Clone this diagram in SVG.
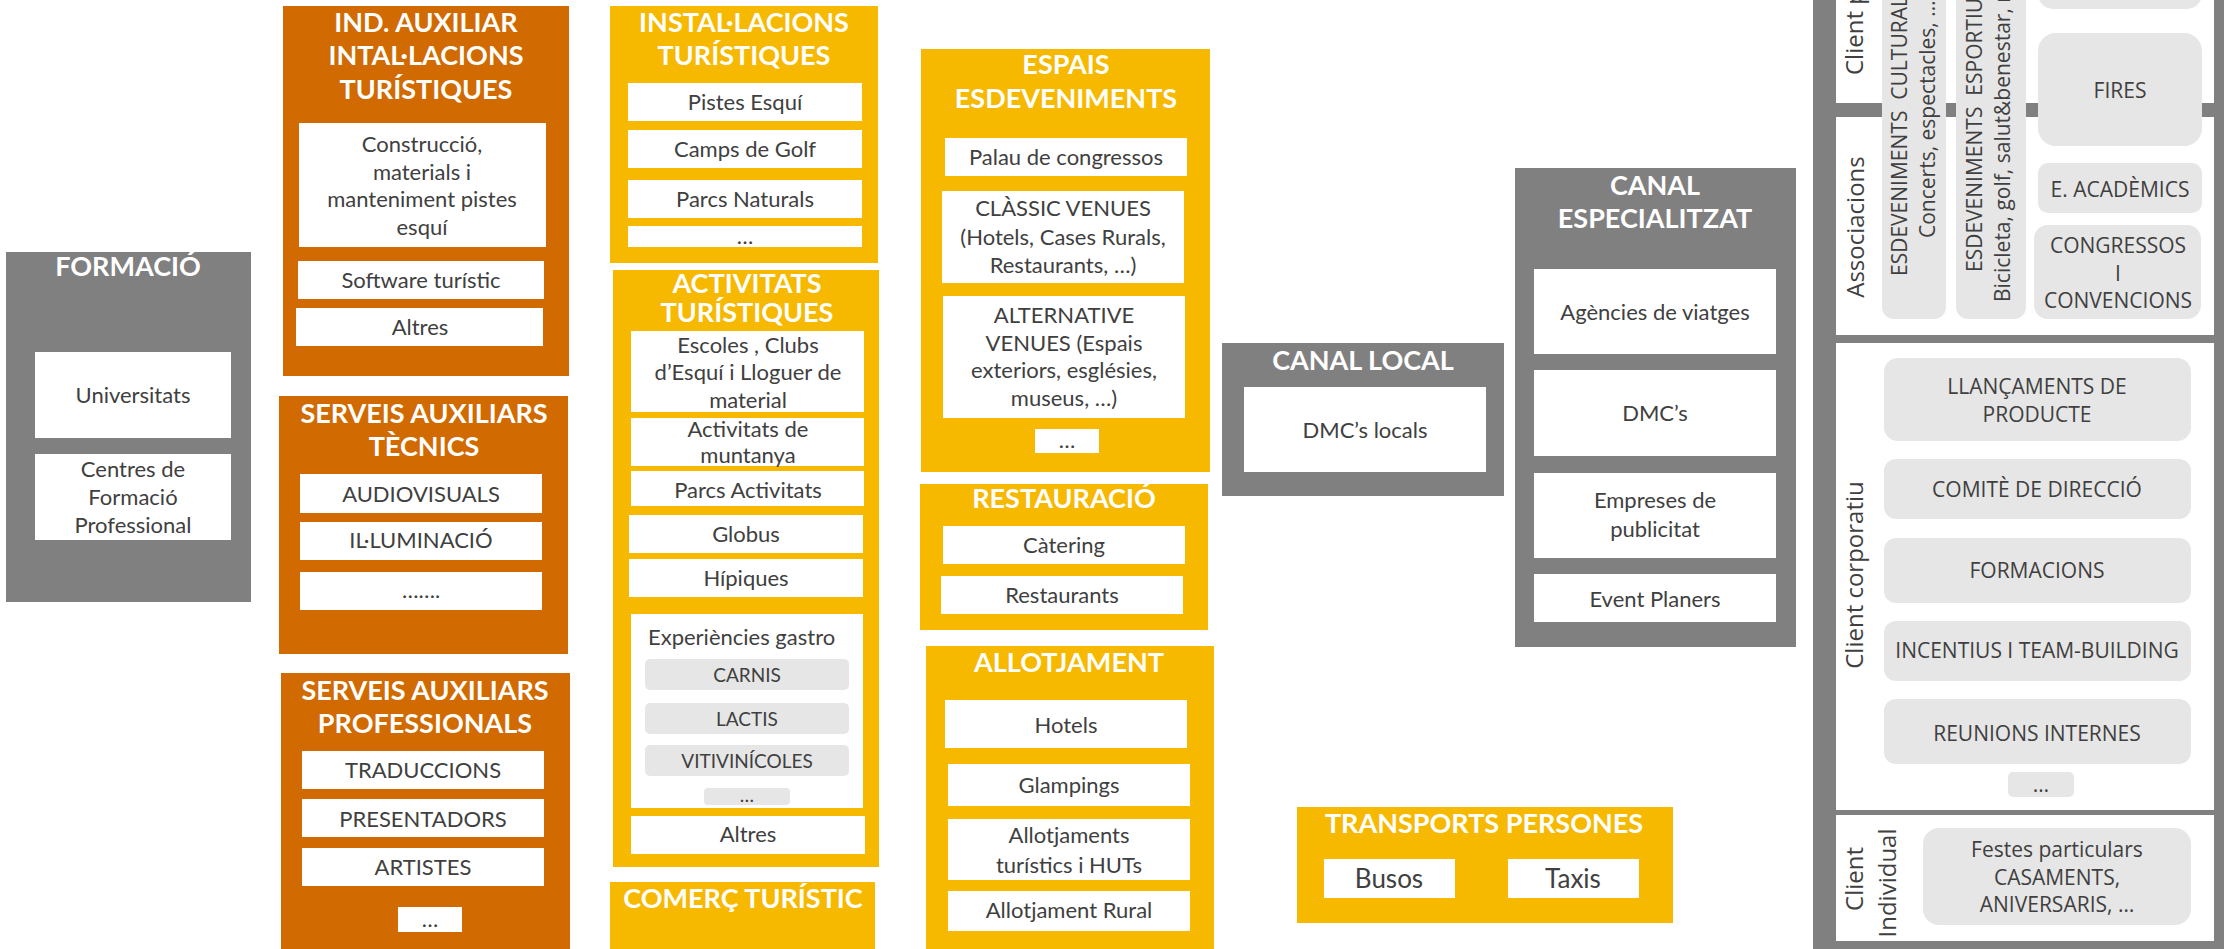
<svg xmlns="http://www.w3.org/2000/svg" width="2224" height="949" viewBox="0 0 2224 949">
<style>
  .grey{fill:#808080}
  .orange{fill:#D16A00}
  .yellow{fill:#F6B900}
  .w{fill:#FFFFFF}
  .pill{fill:#E6E6E6}
  .ttl{font-family:Lato,"Liberation Sans",sans-serif;font-weight:700;font-size:27px;fill:#FFFFFF;text-anchor:middle}
  .tx{font-family:Lato,"Liberation Sans",sans-serif;font-size:22px;fill:#404040;text-anchor:middle}
  .sm{font-family:Lato,"Liberation Sans",sans-serif;font-size:19px;fill:#404040;text-anchor:middle}
  .big{font-family:Lato,"Liberation Sans",sans-serif;font-size:26px;fill:#404040;text-anchor:middle}
  .rp{font-family:"Open Sans","Liberation Sans",sans-serif;font-size:21px;fill:#404040;text-anchor:middle}
  .rv{font-family:"Open Sans","Liberation Sans",sans-serif;font-size:21px;fill:#404040;white-space:pre}
  .lab{font-family:"Open Sans","Liberation Sans",sans-serif;font-size:24px;fill:#404040}
</style>
<rect width="2224" height="949" fill="#FFFFFF"/>

<!-- Training -->
<g id="formacio">
  <rect class="grey" x="6" y="252" width="245" height="350"/>
  <text class="ttl" x="128" y="276">FORMACIÓ</text>
  <rect class="w" x="35" y="352" width="196" height="86"/>
  <text class="tx" x="133" y="403">Universitats</text>
  <rect class="w" x="35" y="454" width="196" height="86"/>
  <text class="tx" x="133"><tspan x="133" y="477">Centres de</tspan><tspan x="133" y="505">Formació</tspan><tspan x="133" y="533">Professional</tspan></text>
</g>

<!-- Auxiliary industry -->
<g id="ind-auxiliar">
  <rect class="orange" x="283" y="6" width="286" height="370"/>
  <text class="ttl"><tspan x="426" y="32">IND. AUXILIAR</tspan><tspan x="426" y="65">INTAL·LACIONS</tspan><tspan x="426" y="99">TURÍSTIQUES</tspan></text>
  <rect class="w" x="299" y="123" width="247" height="124"/>
  <text class="tx"><tspan x="422" y="152">Construcció,</tspan><tspan x="422" y="180">materials i</tspan><tspan x="422" y="207">manteniment pistes</tspan><tspan x="422" y="235">esquí</tspan></text>
  <rect class="w" x="298" y="261" width="246" height="38"/>
  <text class="tx" x="421" y="288">Software turístic</text>
  <rect class="w" x="296" y="308" width="247" height="38"/>
  <text class="tx" x="420" y="335">Altres</text>
</g>

<g id="serveis-tecnics">
  <rect class="orange" x="279" y="396" width="289" height="258"/>
  <text class="ttl"><tspan x="424" y="423">SERVEIS AUXILIARS</tspan><tspan x="424" y="456">TÈCNICS</tspan></text>
  <rect class="w" x="300" y="474" width="242" height="39"/>
  <text class="tx" x="421" y="502">AUDIOVISUALS</text>
  <rect class="w" x="300" y="522" width="242" height="38"/>
  <text class="tx" x="421" y="548">IL·LUMINACIÓ</text>
  <rect class="w" x="300" y="572" width="242" height="38"/>
  <text class="tx" x="421" y="598">…….</text>
</g>

<g id="serveis-professionals">
  <rect class="orange" x="281" y="673" width="289" height="276"/>
  <text class="ttl"><tspan x="425" y="700">SERVEIS AUXILIARS</tspan><tspan x="425" y="733">PROFESSIONALS</tspan></text>
  <rect class="w" x="302" y="751" width="242" height="38"/>
  <text class="tx" x="423" y="778">TRADUCCIONS</text>
  <rect class="w" x="302" y="799" width="242" height="38"/>
  <text class="tx" x="423" y="827">PRESENTADORS</text>
  <rect class="w" x="302" y="848" width="242" height="38"/>
  <text class="tx" x="423" y="875">ARTISTES</text>
  <rect class="w" x="398" y="907" width="64" height="25"/>
  <text class="tx" x="430" y="927">…</text>
</g>

<!-- Tourist facilities and activities -->
<g id="instal-lacions">
  <rect class="yellow" x="610" y="6" width="268" height="257"/>
  <text class="ttl"><tspan x="744" y="32">INSTAL·LACIONS</tspan><tspan x="744" y="65">TURÍSTIQUES</tspan></text>
  <rect class="w" x="628" y="83" width="234" height="38"/>
  <text class="tx" x="745" y="110">Pistes Esquí</text>
  <rect class="w" x="628" y="130" width="234" height="38"/>
  <text class="tx" x="745" y="157">Camps de Golf</text>
  <rect class="w" x="628" y="180" width="234" height="38"/>
  <text class="tx" x="745" y="207">Parcs Naturals</text>
  <rect class="w" x="628" y="226" width="234" height="21"/>
  <text class="tx" x="745" y="244">…</text>
</g>

<g id="activitats">
  <rect class="yellow" x="613" y="270" width="266" height="597"/>
  <text class="ttl"><tspan x="747" y="293">ACTIVITATS</tspan><tspan x="747" y="322">TURÍSTIQUES</tspan></text>
  <rect class="w" x="631" y="331" width="233" height="81"/>
  <text class="tx"><tspan x="748" y="353">Escoles , Clubs</tspan><tspan x="748" y="380">d’Esquí i Lloguer de</tspan><tspan x="748" y="408">material</tspan></text>
  <rect class="w" x="631" y="418" width="233" height="48"/>
  <text class="tx"><tspan x="748" y="437">Activitats de</tspan><tspan x="748" y="463">muntanya</tspan></text>
  <rect class="w" x="631" y="471" width="233" height="35"/>
  <text class="tx" x="748" y="498">Parcs Activitats</text>
  <rect class="w" x="629" y="515" width="234" height="38"/>
  <text class="tx" x="746" y="542">Globus</text>
  <rect class="w" x="629" y="559" width="234" height="38"/>
  <text class="tx" x="746" y="586">Hípiques</text>
  <rect class="w" x="631" y="614" width="232" height="194"/>
  <text class="tx" x="648" y="645" style="text-anchor:start">Experiències gastro</text>
  <rect class="pill" x="645" y="659" width="204" height="31" rx="5"/>
  <text class="sm" x="747" y="682">CARNIS</text>
  <rect class="pill" x="645" y="703" width="204" height="31" rx="5"/>
  <text class="sm" x="747" y="726">LACTIS</text>
  <rect class="pill" x="645" y="745" width="204" height="31" rx="5"/>
  <text class="sm" x="747" y="768">VITIVINÍCOLES</text>
  <rect class="pill" x="704" y="788" width="86" height="17" rx="4"/>
  <text class="sm" x="747" y="802">…</text>
  <rect class="w" x="631" y="816" width="234" height="38"/>
  <text class="tx" x="748" y="842">Altres</text>
</g>

<g id="comerc">
  <rect class="yellow" x="610" y="882" width="265" height="67"/>
  <text class="ttl" x="743" y="908">COMERÇ TURÍSTIC</text>
</g>

<!-- Venues, catering, lodging -->
<g id="espais">
  <rect class="yellow" x="921" y="49" width="289" height="423"/>
  <text class="ttl"><tspan x="1066" y="74">ESPAIS</tspan><tspan x="1066" y="108">ESDEVENIMENTS</tspan></text>
  <rect class="w" x="945" y="138" width="242" height="38"/>
  <text class="tx" x="1066" y="165">Palau de congressos</text>
  <rect class="w" x="942" y="191" width="242" height="92"/>
  <text class="tx"><tspan x="1063" y="216">CLÀSSIC VENUES</tspan><tspan x="1063" y="245">(Hotels, Cases Rurals,</tspan><tspan x="1063" y="273">Restaurants, …)</tspan></text>
  <rect class="w" x="943" y="296" width="242" height="122"/>
  <text class="tx"><tspan x="1064" y="323">ALTERNATIVE</tspan><tspan x="1064" y="351">VENUES (Espais</tspan><tspan x="1064" y="378">exteriors, esglésies,</tspan><tspan x="1064" y="406">museus, …)</tspan></text>
  <rect class="w" x="1035" y="429" width="64" height="24"/>
  <text class="tx" x="1067" y="448">…</text>
</g>

<g id="restauracio">
  <rect class="yellow" x="920" y="484" width="288" height="146"/>
  <text class="ttl" x="1064" y="508">RESTAURACIÓ</text>
  <rect class="w" x="943" y="526" width="242" height="38"/>
  <text class="tx" x="1064" y="553">Càtering</text>
  <rect class="w" x="941" y="576" width="242" height="38"/>
  <text class="tx" x="1062" y="603">Restaurants</text>
</g>

<g id="allotjament">
  <rect class="yellow" x="926" y="646" width="288" height="303"/>
  <text class="ttl" x="1069" y="672">ALLOTJAMENT</text>
  <rect class="w" x="945" y="700" width="242" height="48"/>
  <text class="tx" x="1066" y="733">Hotels</text>
  <rect class="w" x="948" y="764" width="242" height="42"/>
  <text class="tx" x="1069" y="793">Glampings</text>
  <rect class="w" x="948" y="819" width="242" height="61"/>
  <text class="tx"><tspan x="1069" y="843">Allotjaments</tspan><tspan x="1069" y="873">turístics i HUTs</tspan></text>
  <rect class="w" x="948" y="891" width="242" height="40"/>
  <text class="tx" x="1069" y="918">Allotjament Rural</text>
</g>

<!-- Sales channels -->
<g id="canal-local">
  <rect class="grey" x="1222" y="343" width="282" height="153"/>
  <text class="ttl" x="1363" y="370">CANAL LOCAL</text>
  <rect class="w" x="1244" y="387" width="242" height="85"/>
  <text class="tx" x="1365" y="438">DMC’s locals</text>
</g>

<g id="canal-especialitzat">
  <rect class="grey" x="1515" y="168" width="281" height="479"/>
  <text class="ttl"><tspan x="1655" y="195">CANAL</tspan><tspan x="1655" y="228">ESPECIALITZAT</tspan></text>
  <rect class="w" x="1534" y="269" width="242" height="85"/>
  <text class="tx" x="1655" y="320">Agències de viatges</text>
  <rect class="w" x="1534" y="370" width="242" height="86"/>
  <text class="tx" x="1655" y="421">DMC’s</text>
  <rect class="w" x="1534" y="473" width="242" height="85"/>
  <text class="tx"><tspan x="1655" y="508">Empreses de</tspan><tspan x="1655" y="537">publicitat</tspan></text>
  <rect class="w" x="1534" y="574" width="242" height="48"/>
  <text class="tx" x="1655" y="607">Event Planers</text>
</g>

<g id="transports">
  <rect class="yellow" x="1297" y="807" width="376" height="116"/>
  <text class="ttl" x="1484" y="833">TRANSPORTS PERSONES</text>
  <rect class="w" x="1324" y="859" width="131" height="39"/>
  <text class="big" x="1389" y="888">Busos</text>
  <rect class="w" x="1508" y="859" width="131" height="39"/>
  <text class="big" x="1573" y="888">Taxis</text>
</g>

<!-- Client segments panel -->
<g id="clients">
  <rect class="grey" x="1813" y="0" width="411" height="949"/>
  <rect class="w" x="1836" y="0" width="378" height="103"/>
  <rect class="w" x="1836" y="117" width="378" height="218"/>
  <rect class="w" x="1836" y="343" width="378" height="467"/>
  <rect class="w" x="1836" y="815" width="378" height="126"/>
</g>

<g id="client-p">
  <text class="lab" transform="translate(1863,75) rotate(-90)">Client p</text>
  <rect class="pill" x="2038" y="-40" width="164" height="49" rx="15"/>
</g>

<g id="associacions">
  <text class="lab" transform="translate(1864,227) rotate(-90)" text-anchor="middle">Associacions</text>
  <rect class="pill" x="1882" y="-30" width="64" height="349" rx="12"/>
  <text class="rv" transform="translate(1907,276) rotate(-90)">ESDEVENIMENTS  CULTURALS</text>
  <text class="rv" transform="translate(1935,238) rotate(-90)">Concerts, espectacles, …</text>
  <rect class="pill" x="1956" y="-30" width="70" height="349" rx="12"/>
  <text class="rv" transform="translate(1982,272) rotate(-90)">ESDEVENIMENTS  ESPORTIUS</text>
  <text class="rv" transform="translate(2010,302) rotate(-90)">Bicicleta, golf, salut&amp;benestar, m</text>
  <rect class="pill" x="2038" y="33" width="164" height="113" rx="18"/>
  <text class="rp" x="2120" y="98">FIRES</text>
  <rect class="pill" x="2038" y="163" width="164" height="50" rx="10"/>
  <text class="rp" x="2120" y="197">E. ACADÈMICS</text>
  <rect class="pill" x="2034" y="225" width="167" height="94" rx="14"/>
  <text class="rp"><tspan x="2118" y="253">CONGRESSOS</tspan><tspan x="2118" y="281">I</tspan><tspan x="2118" y="308">CONVENCIONS</tspan></text>
</g>

<g id="client-corporatiu">
  <text class="lab" transform="translate(1863,575) rotate(-90)" text-anchor="middle">Client corporatiu</text>
  <rect class="pill" x="1884" y="358" width="307" height="83" rx="14"/>
  <text class="rp"><tspan x="2037" y="394">LLANÇAMENTS DE</tspan><tspan x="2037" y="422">PRODUCTE</tspan></text>
  <rect class="pill" x="1884" y="459" width="307" height="60" rx="12"/>
  <text class="rp" x="2037" y="497">COMITÈ DE DIRECCIÓ</text>
  <rect class="pill" x="1884" y="538" width="307" height="65" rx="12"/>
  <text class="rp" x="2037" y="578">FORMACIONS</text>
  <rect class="pill" x="1884" y="621" width="307" height="60" rx="12"/>
  <text class="rp" x="2037" y="658">INCENTIUS I TEAM-BUILDING</text>
  <rect class="pill" x="1884" y="699" width="307" height="65" rx="12"/>
  <text class="rp" x="2037" y="741">REUNIONS INTERNES</text>
  <rect class="pill" x="2008" y="772" width="66" height="25" rx="5"/>
  <text class="rp" x="2041" y="792">…</text>
</g>

<g id="client-individual">
  <text class="lab" transform="translate(1863,879) rotate(-90)" text-anchor="middle">Client</text>
  <text class="lab" transform="translate(1896,883) rotate(-90)" text-anchor="middle">Individual</text>
  <rect class="pill" x="1923" y="828" width="268" height="97" rx="16"/>
  <text class="rp"><tspan x="2057" y="857">Festes particulars</tspan><tspan x="2057" y="885">CASAMENTS,</tspan><tspan x="2057" y="912">ANIVERSARIS, …</tspan></text>
</g>
</svg>
